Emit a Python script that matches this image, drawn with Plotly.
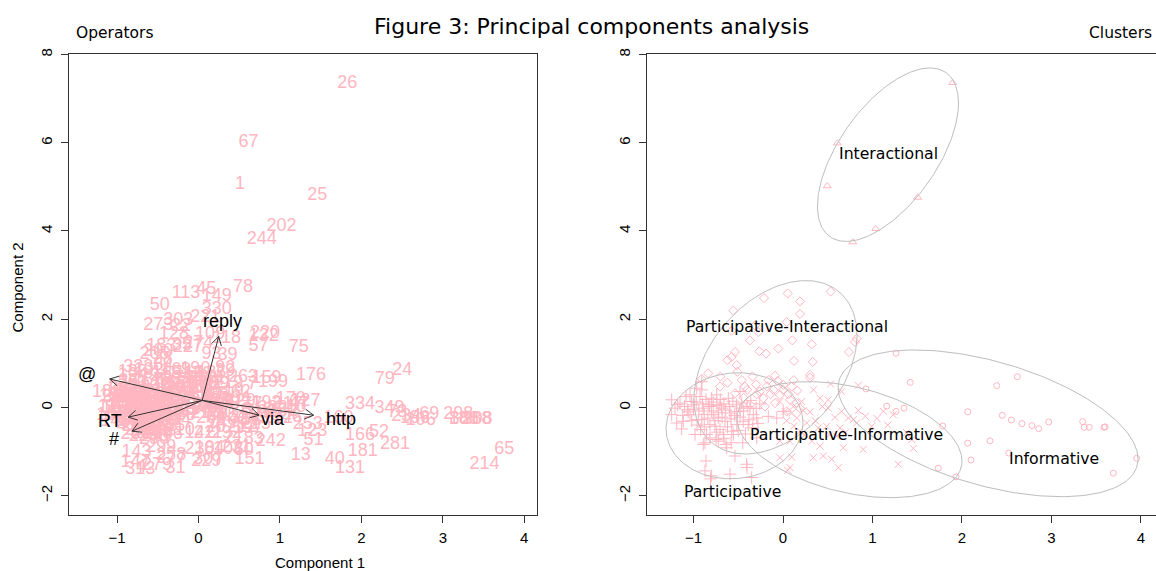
import numpy as np
import plotly.graph_objects as go

# PCA scores (component 1, component 2) and tweet ids, grouped by cluster
part_pc1 = [-1.244, -1.177, -1.132, -1.069, -1.084, -1.039, -0.983, -0.964, -0.927, -0.908,
            -0.872, -0.860, -0.835, -0.816, -0.797, -0.779, -0.749, -0.741, -0.704, -0.685,
            -0.648, -0.637, -0.611, -0.592, -0.555, -0.536, -0.517, -0.480, -0.450, -0.406,
            -0.350, -0.388, -0.332, -0.294, -1.114, -1.020, -1.188, -0.891, -0.853, -0.723,
            -0.667, -1.244, -1.207, -1.151, -1.039, -1.002, -0.946, -0.908, -0.797, -0.760,
            -0.704, -0.573, -0.517, -0.480, -0.444, -0.369, -0.294, -0.891, -0.816, -0.723,
            -0.629, -0.872, -0.592, -0.908, -0.810, -0.402, -0.164, -0.070, 0.003,
            -1.10, -1.06, -1.00, -0.97, -0.94, -0.90, -0.88, -0.86, -0.84, -0.82,
            -0.80, -0.78, -0.76, -0.74, -0.72, -0.70, -0.68, -0.66, -0.64, -0.62,
            -0.60, -0.58, -0.56, -0.54, -0.52, -0.50, -0.48, -0.46, -0.44, -0.42,
            -0.40, -0.38, -0.36, -0.34, -0.30, -0.28, -0.26, -0.96, -0.92, -1.02,
            -1.12, -0.88, -0.74, -0.66, -0.58]
part_pc2 = [-0.164, 0.061, -0.488, -0.052, 0.247, -0.164, -0.613, 0.434, 0.247, -0.276,
            -0.802, -1.213, 0.061, -0.389, -1.551, -0.164, -0.726, 0.285, -0.501, -0.016,
            -0.315, -0.838, 0.209, -0.128, -0.613, -1.101, -0.389, -0.016, -0.802, -1.288,
            -1.589, -0.389, -0.164, -0.690, -0.315, 0.135, -0.353, -0.016, -0.613, -0.240,
            -0.613, 0.173, -0.016, 0.097, 0.285, 0.061, -0.276, 0.398, 0.209, -0.427,
            0.061, -0.539, -0.090, 0.360, -0.315, -0.016, -0.240, -0.838, -0.690, -0.764,
            -0.915, -1.438, -1.512, 0.584, -1.618, -1.360, -0.202, -0.240, -0.090,
            0.02, -0.10, -0.04, 0.12, -0.08, 0.08, -0.16, 0.18, -0.24, 0.02,
            -0.08, 0.12, -0.30, 0.04, -0.12, 0.18, -0.22, 0.08, -0.06, -0.44,
            0.02, -0.26, 0.14, -0.18, 0.06, -0.52, -0.22, 0.10, -0.08, -0.60,
            0.02, -0.28, 0.16, -0.46, -0.02, -0.36, 0.08, -0.40, -0.50, -0.30,
            -0.18, -0.44, -0.56, -0.70, -0.80]
part_ids = [11, 95, 145, 16, 98, 102, 43, 36, 162, 54,
            260, 143, 17, 230, 4, 81, 271, 124, 209, 63,
            171, 296, 12, 140, 216, 299, 90, 5, 206, 258,
            31, 33, 112, 210, 87, 141, 167, 20, 245, 61,
            105, 182, 3, 156, 247, 82, 117, 201, 14, 236,
            49, 152, 41, 264, 120, 59, 136, 2, 223, 226,
            290, 147, 279, 194, 313, 277, 71, 174, 248,
            9, 23, 27, 30, 34, 38, 42, 48, 53, 55,
            64, 68, 70, 76, 80, 85, 86, 91, 94, 96,
            99, 101, 107, 108, 111, 114, 115, 119, 121, 125,
            126, 130, 133, 134, 137, 138, 144, 146, 148, 150,
            153, 155, 158, 163, 164]

pint_pc1 = [-0.212, 0.052, 0.190, 0.533, 0.190, -0.555, -0.313, -0.276, 0.041, -0.369,
            -0.265, -0.190, -0.052, 0.104, 0.321, 0.123, 0.332, 0.737, 0.804, 0.823,
            -0.536, -0.573, -0.622, -0.517, -0.510, -0.835, -0.908, -0.704, -0.425, -0.164,
            -0.089, 0.004, 0.302, 0.302, -0.536, -0.294, -0.220, -0.108, -0.034, 0.078,
            0.153, 0.190, -0.201, -0.089, 0.041, 0.097, -0.369, -0.575,
            -0.46, -0.40, -0.34, -0.30, -0.26, -0.18, -0.14, -0.06, 0.00, 0.06,
            0.12, 0.16, -0.62, -0.70, -0.44]
pint_pc2 = [2.479, 2.584, 2.404, 2.629, 2.120, 2.195, 1.857, 1.708, 1.933, 1.521,
            1.274, 1.221, 1.334, 1.521, 1.431, 1.056, 1.034, 1.258, 1.483, 1.558,
            1.258, 1.146, 1.071, 0.960, 0.809, 0.771, 0.645, 0.472, 0.472, 0.622,
            0.719, 0.510, 0.674, 0.735, 0.322, 0.299, 0.209, 0.398, 0.285, 0.173,
            0.097, -0.016, 0.022, 0.097, -0.090, 0.472, 0.061, 1.740,
            0.62, 0.40, 0.70, 0.52, 0.36, 0.48, 0.30, 0.60, 0.40, 0.30,
            0.62, 0.38, 0.56, 0.70, 0.22]
pint_ids = [113, 45, 149, 78, 330, 50, 303, 22, 221, 128,
            35, 227, 274, 109, 118, 93, 39, 57, 132, 220,
            183, 200, 205, 28, 84, 323, 135, 187, 66, 110,
            190, 252, 29, 92, 18, 301, 72, 213, 157, 6,
            266, 139, 56, 180, 243, 154, 97, 273,
            165, 168, 169, 172, 173, 175, 177, 178, 179, 184,
            185, 189, 191, 192, 195]

pinf_pc1 = [0.533, 0.656, 0.413, 0.506, 0.506, 0.656, 0.842, 0.730, 0.786, 0.581,
            0.823, 1.121, 1.232, 0.227, 0.153, 0.265, 0.395, 0.488, 0.637, 0.600,
            0.321, 0.413, 0.339, 0.450, 0.544, 0.618, 0.674, 0.897, 0.991, 1.288,
            1.456, 0.209, 0.115, 0.097, -0.034, 0.022, 0.190, -0.034, 0.078, -0.034,
            0.097, 0.078, 0.053, 0.840, 1.050, 1.170, 1.440, 1.380,
            0.30, 0.36, 0.44, 0.24, 0.12, 0.52, 0.70, 0.04, 0.34, 0.92]
pinf_pc2 = [0.533, 0.360, 0.209, 0.173, -0.016, -0.090, -0.067, -0.240, -0.276, -0.225,
            -0.353, -0.090, -0.164, -0.075, -0.240, -0.353, -0.464, -0.427, -0.464, -0.652,
            -0.764, -0.876, -1.139, -1.101, -1.176, -1.364, -0.914, -0.951, -0.427, -1.288,
            -0.929, 0.135, 0.022, -0.128, 0.135, -0.090, -0.539, -0.764, -0.764, -1.139,
            -1.124, -1.364, -1.425, 0.500, -0.250, -0.400, -0.730, -0.570,
            -0.10, -0.30, 0.02, -0.62, -0.42, -0.62, -0.56, -0.30, 0.40, -0.20]
pinf_ids = [263, 7, 19, 62, 129, 77, 193, 315, 161, 8,
            246, 217, 10, 116, 44, 235, 100, 32, 58, 197,
            292, 21, 103, 231, 60, 151, 83, 242, 122, 13,
            51, 15, 89, 196, 37, 269, 74, 142, 211, 238,
            104, 307, 229, 159, 282, 46, 123, 253,
            198, 203, 204, 207, 208, 212, 215, 218, 219, 222]

inf_pc1 = [2.064, 2.388, 2.618, 2.450, 2.551, 2.670, 2.782, 2.857, 2.969, 3.349,
           3.366, 3.422, 3.587, 3.600, 2.064, 2.313, 2.101, 2.522, 3.691, 3.952,
           1.263, 1.422, 0.927, 1.159, 1.263, 1.352, 1.784, 1.735, 1.933]
inf_pc2 = [-0.097, 0.494, 0.697, -0.180, -0.285, -0.366, -0.411, -0.479, -0.330, -0.321,
           -0.449, -0.449, -0.449, -0.440, -0.809, -0.757, -1.191, -1.034, -1.490, -1.153,
           1.229, 0.569, 0.420, 0.029, -0.090, -0.016, -0.420, -1.378, -1.573]
inf_ids = [334, 79, 24, 349, 73, 234, 186, 106, 69, 298,
           88, 188, 288, 308, 166, 52, 181, 281, 214, 65,
           75, 176, 199, 170, 47, 127, 160, 40, 131]

int_pc1 = [1.896, 0.607, 0.495, 1.505, 1.036, 0.780]
int_pc2 = [7.360, 5.990, 5.020, 4.760, 4.050, 3.750]
int_ids = [26, 67, 1, 25, 202, 244]

# variable loadings for the biplot arrows
loading_names = ['reply', '@', 'RT', '#', 'via', 'http']
loading_pc1 = [0.253, -1.420, -1.135, -1.077, 0.873, 1.710]
loading_pc2 = [1.810, 0.606, -0.475, -0.872, -0.420, -0.420]

# cluster ellipses: centre, semi-diameter to the rightmost point, vertical conjugate
cluster_names = ['Participative', 'Participative-Interactional', 'Participative-Informative',
                 'Informative', 'Interactional']
ellipse_cx = [-0.542, -0.084, 0.743, 2.291, 1.173]
ellipse_cy = [-0.416, 0.910, -0.730, -0.360, 5.730]
ellipse_ax = [0.765, 0.911, 1.257, 1.676, 0.788]
ellipse_ay = [0.067, 0.730, -0.483, -0.809, 1.169]
ellipse_by = [1.200, 1.825, 1.223, 1.453, 1.581]
label_x = [-0.559, 0.045, 0.704, 3.028, 1.184]
label_y = [-1.910, 1.843, -0.607, -1.146, 5.753]

W, H = 1156, 571
PINK = '#FFB6C1'
AXIS_COL = '#333333'
SANS = 'Liberation Sans, Arial, sans-serif'
DEJAVU = 'DejaVu Sans, sans-serif'

# plot areas in pixels (left, right, top, bottom)
LEFT_BOX = (69.3, 536.7)
RIGHT_BOX = (646.7, W)
TOP, BOTTOM = 49, 514.5
left_xrange = [-1.587, 4.153]
right_xrange = [-1.523, 4.168]
yrange = [-2.438, 8.022]

biplot_origin = (0.045, 0.16)
biplot_scale = (0.939, 0.975)

fig = go.Figure()

# left panel: biplot with tweet ids
all_pc1 = part_pc1 + pint_pc1 + pinf_pc1 + inf_pc1 + int_pc1
all_pc2 = part_pc2 + pint_pc2 + pinf_pc2 + inf_pc2 + int_pc2
all_ids = part_ids + pint_ids + pinf_ids + inf_ids + int_ids
bx = biplot_origin[0] + biplot_scale[0] * np.array(all_pc1)
by = biplot_origin[1] + biplot_scale[1] * np.array(all_pc2)
fig.add_trace(go.Scatter(
    x=bx, y=by, text=[str(i) for i in all_ids], mode='text',
    textfont=dict(family=SANS, size=18, color=PINK),
    xaxis='x', yaxis='y', hoverinfo='skip', showlegend=False,
))

# arrows like R's arrows(): shaft plus two 30 degree head strokes, 10px long
px_x = (LEFT_BOX[1] - LEFT_BOX[0]) / (left_xrange[1] - left_xrange[0])
px_y = (BOTTOM - TOP) / (yrange[1] - yrange[0])
ox, oy = biplot_origin
arrow_x, arrow_y = [], []
annotations = []
for name, lx, ly in zip(loading_names, loading_pc1, loading_pc2):
    tx, ty = ox + 0.8 * lx, oy + 0.8 * ly
    dx, dy = (tx - ox) * px_x, (ty - oy) * px_y
    norm = np.hypot(dx, dy)
    ux, uy = dx / norm, dy / norm
    arrow_x += [ox, tx, None]
    arrow_y += [oy, ty, None]
    for ang in (np.pi / 6, -np.pi / 6):
        hx = ux * np.cos(ang) - uy * np.sin(ang)
        hy = ux * np.sin(ang) + uy * np.cos(ang)
        arrow_x += [tx, tx - 10 * hx / px_x, None]
        arrow_y += [ty, ty - 10 * hy / px_y, None]
    annotations.append(dict(
        x=ox + lx, y=oy + ly, xref='x', yref='y', text=name, showarrow=False,
        font=dict(family=SANS, size=18, color='black'),
    ))
fig.add_trace(go.Scatter(
    x=arrow_x, y=arrow_y, mode='lines', line=dict(color=AXIS_COL, width=1),
    xaxis='x', yaxis='y', hoverinfo='skip', showlegend=False,
))

# right panel: clusters
symbols = ['cross-thin-open', 'diamond-open', 'x-thin-open', 'circle-open', 'triangle-up-open']
sizes = [9, 7, 7, 6, 7]
groups = [(part_pc1, part_pc2), (pint_pc1, pint_pc2), (pinf_pc1, pinf_pc2),
          (inf_pc1, inf_pc2), (int_pc1, int_pc2)]
for (gx, gy), sym, sz in zip(groups, symbols, sizes):
    fig.add_trace(go.Scatter(
        x=gx, y=gy, mode='markers',
        marker=dict(symbol=sym, size=sz, color=PINK, line=dict(width=1, color=PINK)),
        xaxis='x2', yaxis='y2', hoverinfo='skip', showlegend=False,
    ))

t = np.linspace(0, 2 * np.pi, 240)
for cx, cy, ax_, ay_, by_ in zip(ellipse_cx, ellipse_cy, ellipse_ax, ellipse_ay, ellipse_by):
    fig.add_trace(go.Scatter(
        x=cx + ax_ * np.cos(t), y=cy + ay_ * np.cos(t) + by_ * np.sin(t),
        mode='lines', line=dict(color='#BDBDBD', width=1),
        xaxis='x2', yaxis='y2', hoverinfo='skip', showlegend=False,
    ))

for name, lx, ly in zip(cluster_names, label_x, label_y):
    annotations.append(dict(
        x=lx, y=ly, xref='x2', yref='y2', text=name, showarrow=False,
        font=dict(family=DEJAVU, size=15.7, color='black'),
    ))


def paper_text(px, py, text, font, xanchor='center', angle=0):
    return dict(x=px / W, y=1 - py / H, xref='paper', yref='paper', showarrow=False,
                xanchor=xanchor, yanchor='middle', text=text, font=font, textangle=angle)


annotations += [
    paper_text(591, 22, 'Figure 3: Principal components analysis',
               dict(family=DEJAVU, size=22, color='black')),
    paper_text(74, 28, 'Operators', dict(family=DEJAVU, size=15.5, color='black'), 'left'),
    paper_text(1154, 28, 'Clusters', dict(family=DEJAVU, size=15.5, color='black'), 'right'),
    paper_text(320, 562, 'Component 1', dict(family=SANS, size=15, color='black')),
    paper_text(18, 285, 'Component 2', dict(family=SANS, size=15, color='black'), angle=-90),
]

axis_style = dict(
    showline=True, linecolor=AXIS_COL, linewidth=1, ticks='outside', ticklen=7,
    tickwidth=1, tickcolor=AXIS_COL, showgrid=False, zeroline=False,
    tickfont=dict(family=SANS, size=15, color='black'), fixedrange=True,
)
y_dom = [1 - BOTTOM / H, 1 - TOP / H]

fig.update_layout(
    width=W, height=H, margin=dict(l=0, r=0, t=0, b=0),
    paper_bgcolor='white', plot_bgcolor='white',
    xaxis=dict(axis_style, domain=[LEFT_BOX[0] / W, LEFT_BOX[1] / W], range=left_xrange,
               tickvals=[-1, 0, 1, 2, 3, 4], mirror=True, anchor='y', ticklabelstandoff=2),
    yaxis=dict(axis_style, domain=y_dom, range=yrange,
               tickvals=[-2, 0, 2, 4, 6, 8], tickangle=-90, mirror=True, anchor='x',
               ticklabelstandoff=3),
    xaxis2=dict(axis_style, domain=[RIGHT_BOX[0] / W, 1.0], range=right_xrange,
                tickvals=[-1, 0, 1, 2, 3, 4], mirror=True, anchor='y2', ticklabelstandoff=2),
    yaxis2=dict(axis_style, domain=y_dom, range=yrange,
                tickvals=[-2, 0, 2, 4, 6, 8], tickangle=-90, mirror=False, anchor='x2',
                ticklabelstandoff=3),
    annotations=annotations,
    hovermode=False,
)

fig.write_html("out.html", config={'displayModeBar': False},
               post_script="document.body.style.margin='0';document.body.style.overflow='hidden';")
